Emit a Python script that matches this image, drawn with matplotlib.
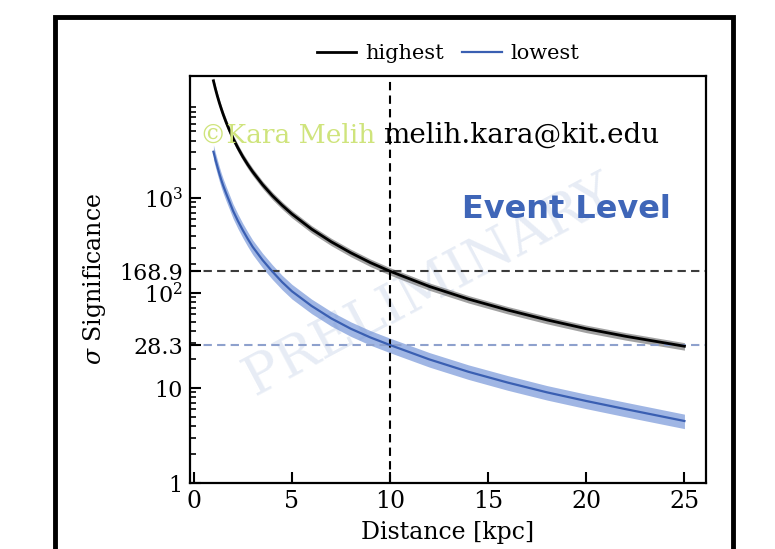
import matplotlib
matplotlib.use("Agg")
import matplotlib.pyplot as plt
from matplotlib.patches import Rectangle
from matplotlib.ticker import LogLocator, NullFormatter

# distances [kpc] and significances
distance = [1, 1.1, 1.2, 1.3, 1.4, 1.5, 1.65, 1.8, 2, 2.25, 2.5, 2.75, 3, 3.5,
            4, 4.5, 5, 6, 7, 8, 9, 10, 12, 14, 16, 18, 20, 22, 25]

highest = [17000, 14000, 11750, 10000, 8620, 7500, 6200, 5220, 4220, 3340,
           2700, 2235, 1880, 1380, 1055, 835, 676, 469, 345, 264, 208, 168.9,
           117, 86, 66, 52, 42, 35, 27.5]
highest_lo = [15470, 12740, 10690, 9100, 7840, 6830, 5640, 4750, 3840, 3040,
              2460, 2030, 1710, 1256, 960, 760, 615, 427, 314, 240, 189, 153.7,
              106.5, 78.3, 60.1, 47.3, 38.2, 31.9, 25.0]
highest_hi = [18530, 15260, 12810, 10900, 9400, 8180, 6760, 5690, 4600, 3640,
              2940, 2440, 2050, 1504, 1150, 910, 737, 511, 376, 288, 227, 184.1,
              127.5, 93.7, 71.9, 56.7, 45.8, 38.2, 30.0]

lowest = [3050, 2530, 2130, 1800, 1540, 1340, 1110, 930, 730, 570, 455, 370,
          305, 222, 168, 130, 104, 73, 54, 42, 34, 28.3, 20, 14.8, 11.4, 9.0,
          7.3, 6.0, 4.5]
lowest_lo = [2530, 2100, 1768, 1494, 1278, 1112, 921, 772, 606, 473, 378, 307,
             253, 184, 139, 108, 86.3, 60.6, 44.8, 34.9, 28.2, 23.5, 16.6, 12.3,
             9.46, 7.47, 6.06, 4.98, 3.74]
lowest_hi = [3600, 2985, 2513, 2124, 1817, 1581, 1310, 1097, 861, 673, 537, 437,
             360, 262, 198, 153, 123, 86.1, 63.7, 49.6, 40.1, 33.4, 23.6, 17.5,
             13.5, 10.6, 8.61, 7.08, 5.31]

ref_distance = 10
ref_high = 168.9
ref_low = 28.3

ytick_vals = [1, 10, 28.3, 100, 168.9, 1000]
ytick_labels = ["1", "10", "28.3", "$10^2$", "168.9", "$10^3$"]
xtick_vals = [0, 5, 10, 15, 20, 25]

plt.rcParams["font.family"] = "DejaVu Serif"
plt.rcParams["mathtext.fontset"] = "dejavuserif"

BLUE = "#3a5fb2"

fig = plt.figure(figsize=(7.75, 5.49), dpi=100)
ax = fig.add_axes([0.245, 0.120, 0.666, 0.742])

# outer frame of the slide
fig.patches.append(Rectangle((0.071, -0.1), 0.875, 1.069, transform=fig.transFigure,
                             fill=False, lw=3.5, ec="black", zorder=10))

ax.fill_between(distance, highest_lo, highest_hi, color="#555555", alpha=0.55, lw=0)
ax.plot(distance, highest, color="black", lw=2, label="highest")
ax.fill_between(distance, lowest_lo, lowest_hi, color="#6d8fd6", alpha=0.65, lw=0)
ax.plot(distance, lowest, color=BLUE, lw=1.6, label="lowest")

ax.axvline(ref_distance, color="black", ls=(0, (4, 2.5)), lw=1.5, zorder=1)
ax.axhline(ref_high, color="#3c3c3c", ls=(0, (4, 2.5)), lw=1.5, zorder=1)
ax.axhline(ref_low, color="#8ea1cd", ls=(0, (4, 2.5)), lw=1.5, zorder=1)

ax.set_yscale("log")
ax.set_xlim(-0.2, 26.1)
ax.set_ylim(1, 1.92e4)
ax.set_xticks(xtick_vals)
ax.set_yticks(ytick_vals)
ax.set_yticklabels(ytick_labels)
ax.yaxis.set_minor_locator(LogLocator(base=10, subs=range(2, 10), numticks=20))
ax.yaxis.set_minor_formatter(NullFormatter())
ax.tick_params(which="major", direction="in", length=8, width=1.5, labelsize=17, pad=5)
ax.tick_params(axis="y", which="major", labelsize=16)
ax.tick_params(which="minor", direction="in", length=4.5, width=1.2)
for s in ax.spines.values():
    s.set_linewidth(1.6)

ax.set_xlabel("Distance [kpc]", fontsize=17, labelpad=6)
ax.set_ylabel(r"$\sigma$ Significance", fontsize=17, labelpad=8)

ax.legend(loc="lower center", bbox_to_anchor=(0.5, 1.0), ncol=2, frameon=False,
          fontsize=15, handlelength=1.9, handletextpad=0.4, columnspacing=0.9,
          borderaxespad=0.2)

ax.text(0.02, 0.855, "\u00a9Kara Melih", transform=ax.transAxes, fontsize=19,
        color="#cfe47c", va="center", ha="left")
ax.text(0.374, 0.855, "melih.kara@kit.edu", transform=ax.transAxes, fontsize=20,
        color="black", va="center", ha="left")
ax.text(0.729, 0.672, "Event Level", transform=ax.transAxes, fontsize=23,
        fontweight="bold", family="DejaVu Sans", color="#3f66b8",
        va="center", ha="center")
ax.text(0.465, 0.483, "PRELIMINARY", transform=ax.transAxes, fontsize=39,
        color="#9fb4d8", alpha=0.25, rotation=28, va="center", ha="center", zorder=0)

fig.savefig("out.png", dpi=100)
